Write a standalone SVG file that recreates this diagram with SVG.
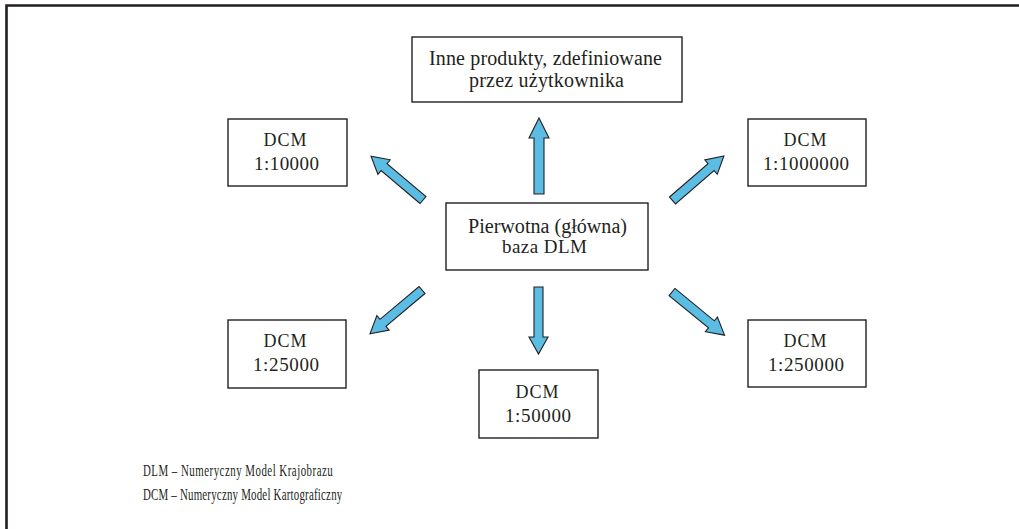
<svg xmlns="http://www.w3.org/2000/svg" width="1019" height="529" viewBox="0 0 1019 529">
<style>
.box{fill:#fff;stroke:#231f20;stroke-width:1.4}
.t{font-family:"Liberation Serif","Times New Roman",serif;fill:#231f20;text-anchor:middle}
.l{font-family:"Liberation Serif","Times New Roman",serif;fill:#231f20}
.arr{fill:#5bbde4;stroke:#231f20;stroke-width:1.1;stroke-linejoin:miter}
.frame{stroke:#231f20;stroke-width:2.6;fill:none}
</style>
<defs>
<polygon id="diag" points="0,-4.6 51,-4.6 51,-9.5 68,0 51,9.5 51,4.6 0,4.6"/>
</defs>
<path class="frame" d="M6.5,529 V5.5 H1019"/>
<g id="connectors">
<polygon class="arr" points="534,194 534,138 529,138 539,118 549,138 544,138 544,194"/>
<polygon class="arr" points="534,287 543,287 543,337 548,337 538.5,354 529,337 534,337"/>
<use href="#diag" class="arr" transform="translate(423,200) rotate(220.2)"/>
<use href="#diag" class="arr" transform="translate(422,290) rotate(139.9)"/>
<use href="#diag" class="arr" transform="translate(672.5,200.5) rotate(-40.9)"/>
<use href="#diag" class="arr" transform="translate(672,292) rotate(39.4)"/>
</g>
<g id="node-inne">
<rect class="box" x="412" y="37" width="270" height="65"/>
<text class="t" x="545.5" y="65" font-size="20" textLength="233" lengthAdjust="spacing">Inne produkty, zdefiniowane</text>
<text class="t" x="546.5" y="87" font-size="20" textLength="155" lengthAdjust="spacing">przez użytkownika</text>
</g>
<g id="node-main">
<rect class="box" x="446" y="203" width="202" height="67"/>
<text class="t" x="547.5" y="233" font-size="20" textLength="159" lengthAdjust="spacingAndGlyphs">Pierwotna (główna)</text>
<text class="t" x="544.5" y="253" font-size="19" textLength="85" lengthAdjust="spacing">baza DLM</text>
</g>
<g id="node-10000">
<rect class="box" x="228" y="119" width="119" height="67"/>
<text class="t" x="285" y="146" font-size="18" textLength="43" lengthAdjust="spacing">DCM</text>
<text class="t" x="286.5" y="170" font-size="19" textLength="65" lengthAdjust="spacing">1:10000</text>
</g>
<g id="node-1000000">
<rect class="box" x="748" y="119" width="118" height="67"/>
<text class="t" x="805" y="146" font-size="18" textLength="43" lengthAdjust="spacing">DCM</text>
<text class="t" x="806" y="170" font-size="19" textLength="86" lengthAdjust="spacing">1:1000000</text>
</g>
<g id="node-25000">
<rect class="box" x="228" y="320" width="118" height="68"/>
<text class="t" x="285" y="347" font-size="18" textLength="43" lengthAdjust="spacing">DCM</text>
<text class="t" x="286" y="371" font-size="19" textLength="66" lengthAdjust="spacing">1:25000</text>
</g>
<g id="node-50000">
<rect class="box" x="479" y="370" width="119" height="68"/>
<text class="t" x="537" y="398" font-size="18" textLength="43" lengthAdjust="spacing">DCM</text>
<text class="t" x="538" y="422" font-size="19" textLength="66" lengthAdjust="spacing">1:50000</text>
</g>
<g id="node-250000">
<rect class="box" x="748" y="320" width="118" height="67"/>
<text class="t" x="805" y="347" font-size="18" textLength="43" lengthAdjust="spacing">DCM</text>
<text class="t" x="806" y="371" font-size="19" textLength="76" lengthAdjust="spacing">1:250000</text>
</g>
<g id="legend" transform="translate(143,0) scale(0.68,1)">
<text class="l" x="0" y="476" font-size="16" textLength="279" lengthAdjust="spacing">DLM – Numeryczny Model Krajobrazu</text>
<text class="l" x="0" y="500" font-size="16" textLength="293" lengthAdjust="spacing">DCM – Numeryczny Model Kartograficzny</text>
</g>
</svg>
